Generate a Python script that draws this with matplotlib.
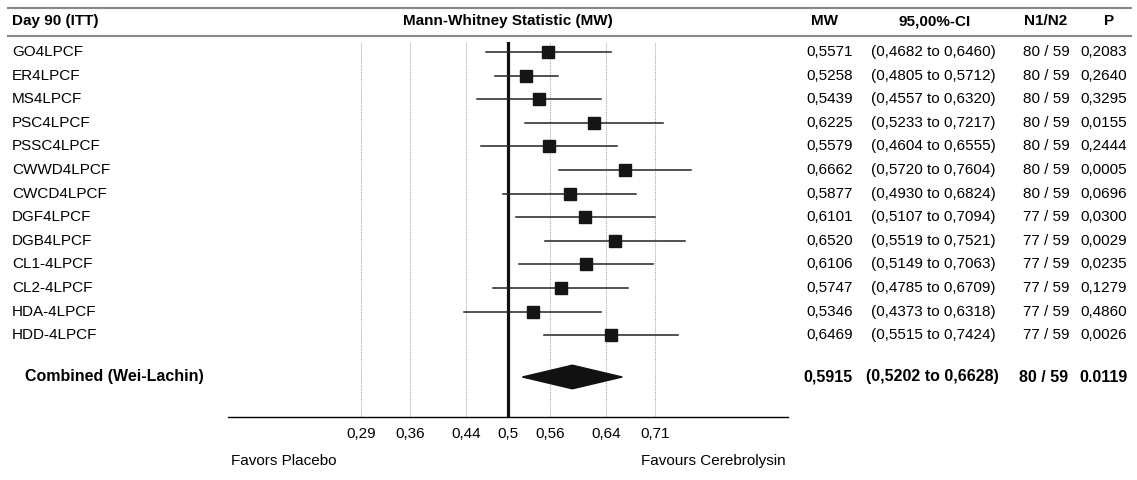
import matplotlib
matplotlib.use("Agg")
import matplotlib.pyplot as plt
from matplotlib.lines import Line2D
from matplotlib.transforms import blended_transform_factory

plt.rcParams['font.family'] = ['Liberation Sans', 'DejaVu Sans']

# data
labels = ['GO4LPCF', 'ER4LPCF', 'MS4LPCF', 'PSC4LPCF', 'PSSC4LPCF', 'CWWD4LPCF',
          'CWCD4LPCF', 'DGF4LPCF', 'DGB4LPCF', 'CL1-4LPCF', 'CL2-4LPCF',
          'HDA-4LPCF', 'HDD-4LPCF']
mw = [0.5571, 0.5258, 0.5439, 0.6225, 0.5579, 0.6662, 0.5877, 0.6101, 0.6520,
      0.6106, 0.5747, 0.5346, 0.6469]
ci_lo = [0.4682, 0.4805, 0.4557, 0.5233, 0.4604, 0.5720, 0.4930, 0.5107, 0.5519,
         0.5149, 0.4785, 0.4373, 0.5515]
ci_hi = [0.6460, 0.5712, 0.6320, 0.7217, 0.6555, 0.7604, 0.6824, 0.7094, 0.7521,
         0.7063, 0.6709, 0.6318, 0.7424]
n1 = [80, 80, 80, 80, 80, 80, 80, 77, 77, 77, 77, 77, 77]
n2 = [59] * 13
pvals = ['0,2083', '0,2640', '0,3295', '0,0155', '0,2444', '0,0005', '0,0696',
         '0,0300', '0,0029', '0,0235', '0,1279', '0,4860', '0,0026']

comb_label = 'Combined (Wei-Lachin)'
comb_mw, comb_lo, comb_hi = 0.5915, 0.5202, 0.6628
comb_n = (80, 59)
comb_p = '0.0119'

ticks = [0.29, 0.36, 0.44, 0.5, 0.56, 0.64, 0.71]

W, H = 1137, 480
fig = plt.figure(figsize=(W / 100, H / 100), dpi=100)
FS = 11

def fx(px):
    return px / W

def fy(py):
    return 1 - py / H

# forest axes: x 0.1..0.9 spans pixels 228..788, rows spaced 23.6 px from y=52
row0, step = 52, 23.6
top_px, bot_px = 42, 417
ax = fig.add_axes([fx(228.3), fy(bot_px), 560 / W, (bot_px - top_px) / H])
ax.set_xlim(0.1, 0.9)
ax.set_ylim((bot_px - row0) / step, (top_px - row0) / step)
for s in ['top', 'left', 'right']:
    ax.spines[s].set_visible(False)
ax.spines['bottom'].set_linewidth(1.0)
ax.set_yticks([])
ax.set_xticks(ticks)
ax.set_xticklabels([('%g' % t).replace('.', ',') for t in ticks], fontsize=FS)
ax.tick_params(axis='x', length=0, pad=7)

for t in ticks:
    if t != 0.5:
        ax.axvline(t, color='#aaaaaa', lw=0.8, ls=(0, (1, 1)), zorder=0)
ax.axvline(0.5, color='#111111', lw=2.3, zorder=1)

ys = list(range(len(labels)))
for y, m, lo, hi in zip(ys, mw, ci_lo, ci_hi):
    ax.plot([lo, hi], [y, y], color='#222222', lw=1.1, zorder=2)
ax.plot(mw, ys, 's', color='#151515', ms=8.7, zorder=3)

yc = (377 - row0) / step
hh = 0.5
ax.fill([comb_lo, comb_mw, comb_hi, comb_mw], [yc, yc - hh, yc, yc + hh],
        color='#111111', zorder=3)

# text columns: x in figure pixels, y in row units
tr = blended_transform_factory(fig.transFigure, ax.transData)

def fmt(v):
    return ('%.4f' % v).replace('.', ',')

for y, lab, m, lo, hi, a, b, p in zip(ys, labels, mw, ci_lo, ci_hi, n1, n2, pvals):
    ax.text(fx(12), y, lab, transform=tr, ha='left', va='center', fontsize=FS)
    ax.text(fx(853), y, fmt(m), transform=tr, ha='right', va='center', fontsize=FS)
    ax.text(fx(933), y, '(%s to %s)' % (fmt(lo), fmt(hi)), transform=tr,
            ha='center', va='center', fontsize=FS)
    ax.text(fx(1046), y, '%d / %d' % (a, b), transform=tr, ha='center',
            va='center', fontsize=FS)
    ax.text(fx(1104), y, p, transform=tr, ha='center', va='center', fontsize=FS)

bold = dict(transform=tr, va='center', fontsize=11.5, fontweight='bold')
ax.text(fx(25), yc, comb_label, ha='left', **bold)
ax.text(fx(853), yc, fmt(comb_mw), ha='right', **bold)
ax.text(fx(932), yc, '(%s to %s)' % (fmt(comb_lo), fmt(comb_hi)), ha='center', **bold)
ax.text(fx(1044), yc, '%d / %d' % comb_n, ha='center', **bold)
ax.text(fx(1104), yc, comb_p, ha='center', **bold)

# header
for py in (8, 36):
    fig.add_artist(Line2D([fx(8), fx(1131)], [fy(py), fy(py)], color='#888888', lw=1.5))
hdr = dict(fontsize=FS, fontweight='bold', va='center')
fig.text(fx(12), fy(21), 'Day 90 (ITT)', ha='left', **hdr)
fig.text(fx(508), fy(21), 'Mann-Whitney Statistic (MW)', ha='center', **hdr)
fig.text(fx(825), fy(21), 'MW', ha='center', **hdr)
fig.text(fx(935), fy(21), '95,00%-CI', ha='center', **hdr)
fig.text(fx(1046), fy(21), 'N1/N2', ha='center', **hdr)
fig.text(fx(1109), fy(21), 'P', ha='center', **hdr)

fig.text(fx(231), fy(461), 'Favors Placebo', ha='left', va='center', fontsize=FS)
fig.text(fx(786), fy(461), 'Favours Cerebrolysin', ha='right', va='center', fontsize=FS)

fig.savefig('out.png', dpi=100, facecolor='white')
